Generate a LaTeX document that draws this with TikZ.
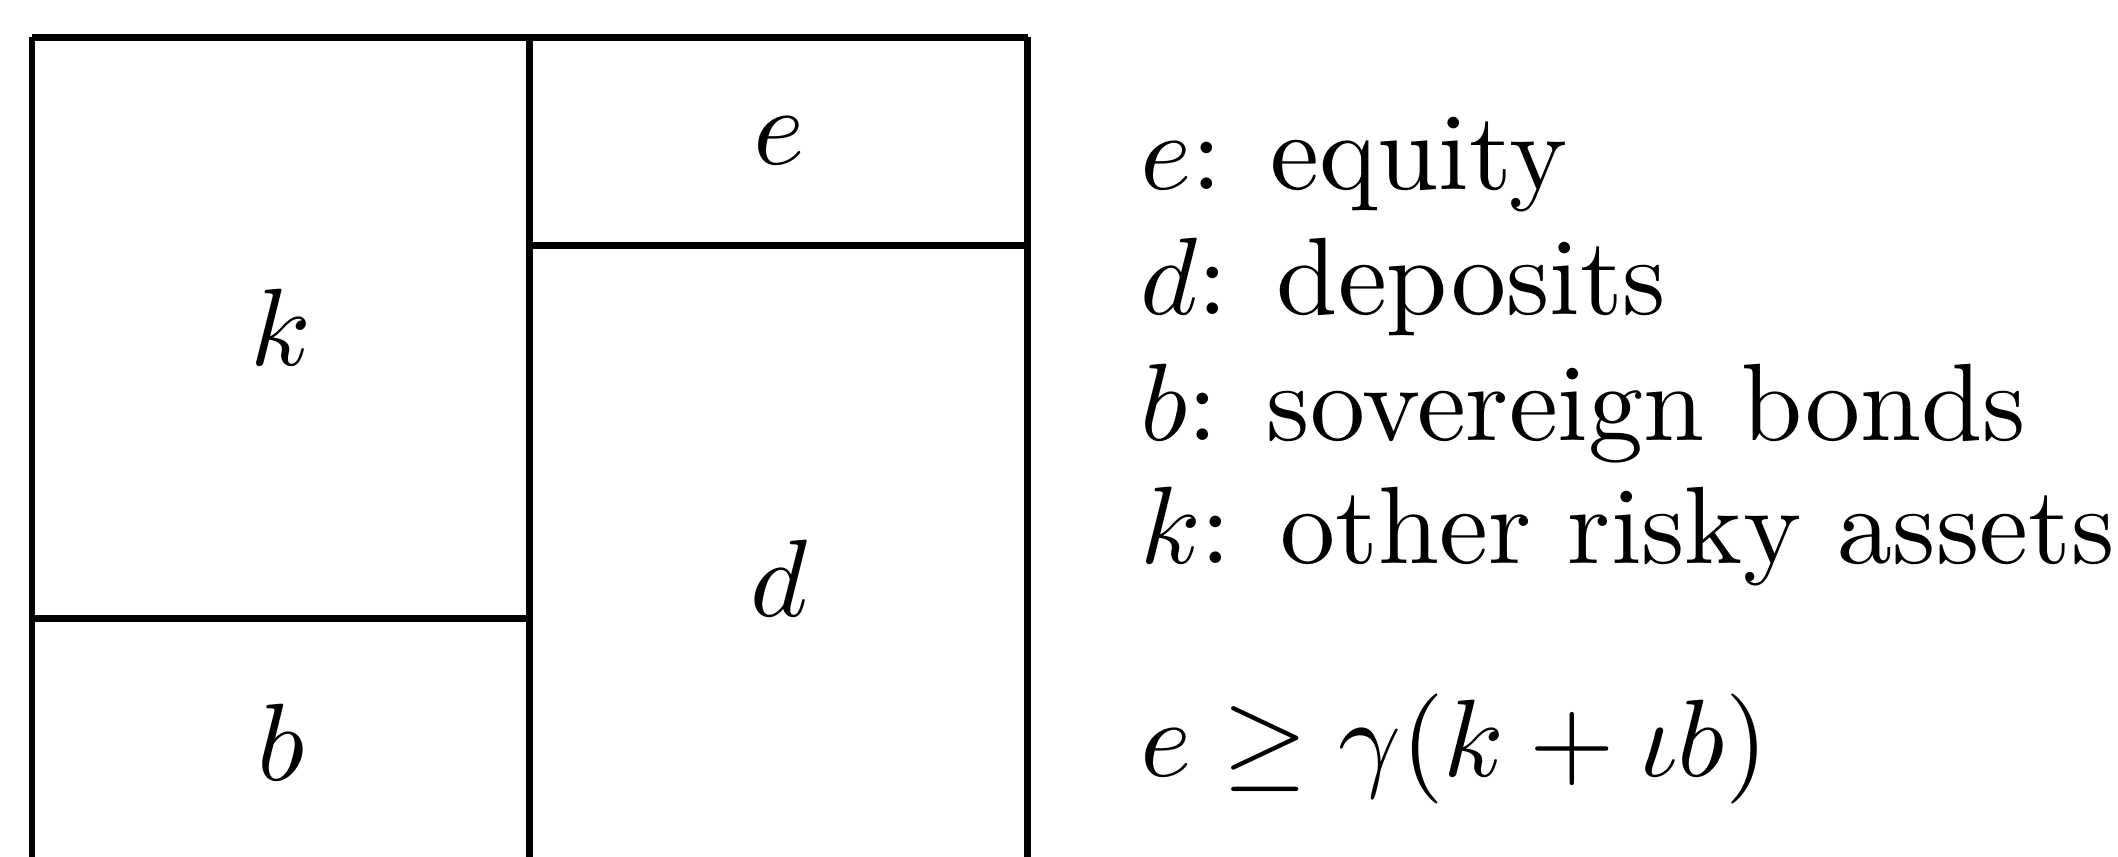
\documentclass[tikz,border=0pt]{standalone}
\usepackage{amsmath,amssymb}
\usepackage{tikz}

\begin{document}
\begin{tikzpicture}[lbl/.style={anchor=base west,inner sep=0pt}]
\useasboundingbox (0,0) rectangle (6.767,2.738);

\begin{scope}[line width=0.62pt]
\clip (0,0) rectangle (6.767,2.738);
\draw (0.102,2.619) -- (3.284,2.619);
\draw (0.102,2.619) -- (0.102,-0.1);
\draw (1.692,2.619) -- (1.692,-0.1);
\draw (3.284,2.619) -- (3.284,-0.1);
\draw (1.692,1.954) -- (3.284,1.954);
\draw (0.102,0.763) -- (1.692,0.763);
\end{scope}

\node (cellE) at (2.488,2.287) {$e$};
\node (cellK) at (0.897,1.691) {$k$};
\node (cellD) at (2.488,0.890) {$d$};
\node (cellB) at (0.897,0.367) {$b$};

\node[lbl] (lgE) at (3.636,2.131) {$e$: equity};
\node[lbl] (lgD) at (3.636,1.732) {$d$: deposits};
\node[lbl] (lgB) at (3.636,1.332) {$b$: sovereign bonds};
\node[lbl] (lgK) at (3.636,0.939) {$k$: other risky assets};
\node[lbl] (rule) at (3.636,0.256) {$e\geq\gamma(k+\iota b)$};
\end{tikzpicture}
\end{document}
